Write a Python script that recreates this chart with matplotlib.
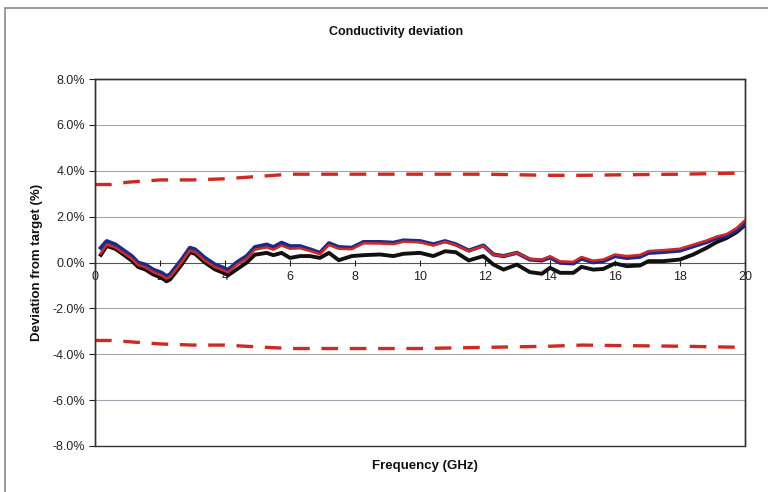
import matplotlib.pyplot as plt
from matplotlib.patches import Rectangle
from matplotlib.ticker import FuncFormatter, MultipleLocator

plt.rcParams['font.family'] = ['Liberation Sans', 'DejaVu Sans']

freq = [0.18, 0.36, 0.62, 0.92, 1.13, 1.33, 1.54, 1.79, 2.05, 2.2, 2.31, 2.51, 2.67,
        2.92, 3.08, 3.38, 3.69, 3.95, 4.1, 4.36, 4.67, 4.92, 5.28, 5.49, 5.74, 6.0,
        6.31, 6.62, 6.92, 7.2, 7.5, 7.9, 8.26, 8.77, 9.18, 9.49, 10.0, 10.41, 10.77,
        11.1, 11.5, 11.95, 12.26, 12.57, 12.98, 13.38, 13.75, 14.0, 14.31, 14.72,
        14.97, 15.33, 15.64, 16.0, 16.36, 16.77, 17.03, 17.49, 18.0, 18.41, 18.82,
        19.13, 19.44, 19.74, 20.0]
blue_dev = [0.64, 0.93, 0.79, 0.49, 0.28, -0.01, -0.09, -0.31, -0.45, -0.6, -0.52, -0.16,
            0.13, 0.64, 0.57, 0.2, -0.09, -0.23, -0.32, 0.0, 0.28, 0.67, 0.78, 0.67, 0.86,
            0.71, 0.71, 0.57, 0.42, 0.84, 0.67, 0.64, 0.89, 0.89, 0.86, 0.96, 0.93, 0.79,
            0.93, 0.79, 0.52, 0.74, 0.35, 0.28, 0.42, 0.13, 0.09, 0.22, -0.01, -0.04, 0.17,
            0.01, 0.06, 0.28, 0.2, 0.25, 0.42, 0.46, 0.52, 0.71, 0.89, 1.07, 1.17, 1.41, 1.70]
red_dev = [0.40, 0.78, 0.66, 0.37, 0.16, -0.12, -0.2, -0.42, -0.57, -0.7, -0.63, -0.28,
           0.02, 0.52, 0.46, 0.08, -0.2, -0.34, -0.43, -0.1, 0.17, 0.56, 0.66, 0.56, 0.74,
           0.6, 0.62, 0.5, 0.36, 0.76, 0.6, 0.58, 0.84, 0.83, 0.8, 0.91, 0.88, 0.74, 0.9,
           0.76, 0.5, 0.72, 0.34, 0.28, 0.42, 0.15, 0.12, 0.27, 0.05, 0.03, 0.24, 0.08,
           0.13, 0.35, 0.28, 0.33, 0.5, 0.54, 0.6, 0.78, 0.96, 1.13, 1.24, 1.5, 1.84]
black_dev = [0.33, 0.72, 0.6, 0.3, 0.08, -0.2, -0.3, -0.52, -0.67, -0.82, -0.74, -0.38,
             -0.08, 0.44, 0.38, 0.0, -0.3, -0.45, -0.55, -0.3, 0.0, 0.34, 0.42, 0.32, 0.42,
             0.2, 0.28, 0.28, 0.2, 0.42, 0.1, 0.28, 0.32, 0.35, 0.28, 0.38, 0.42, 0.28, 0.49,
             0.45, 0.09, 0.28, -0.09, -0.31, -0.09, -0.42, -0.49, -0.23, -0.45, -0.45, -0.19,
             -0.31, -0.28, -0.04, -0.16, -0.13, 0.06, 0.06, 0.13, 0.35, 0.64, 0.89, 1.07,
             1.32, 1.63]

# tolerance limits
limit_freq = [0, 0.5, 1, 2, 3, 4, 5, 6, 8, 10, 12, 14, 15, 16, 18, 20]
upper_lim = [3.4, 3.4, 3.5, 3.6, 3.6, 3.65, 3.75, 3.85, 3.85, 3.85, 3.85, 3.8, 3.8, 3.82, 3.85, 3.9]
lower_lim = [-3.4, -3.4, -3.45, -3.55, -3.6, -3.6, -3.68, -3.75, -3.75, -3.75, -3.7, -3.65,
             -3.6, -3.62, -3.65, -3.7]

fig = plt.figure(figsize=(7.68, 4.92), dpi=100)
ax = fig.add_axes([95/768, 1 - 446/492, 650/768, 367/492])

# outer chart border
fig.patches.append(Rectangle((5/768, -0.02), 1.1, (492 - 8)/492 + 0.02,
                             transform=fig.transFigure, fill=False,
                             edgecolor='#8a8a8a', lw=1.2))

# plot area box (bottom spine is moved to the zero line)
ax.add_patch(Rectangle((0, 0), 1, 1, transform=ax.transAxes, fill=False,
                       edgecolor='#333333', lw=1.0, zorder=6, clip_on=False))

for y in range(-8, 9, 2):
    if y != 0:
        ax.axhline(y, color='#a4a4b4', lw=0.8, zorder=1)

ax.plot(limit_freq, upper_lim, color='#cc2a22', lw=2.4, dashes=(5, 3.5), zorder=2)
ax.plot(limit_freq, lower_lim, color='#cc2a22', lw=2.4, dashes=(5, 3.5), zorder=2)

ax.plot(freq, black_dev, color='#111111', lw=2.8, zorder=3)
ax.plot(freq, blue_dev, color='#1c2a8c', lw=3.0, zorder=4)
ax.plot(freq, red_dev, color='#d02a25', lw=1.8, zorder=5)

ax.set_xlim(0, 20)
ax.set_ylim(-8, 8)
ax.yaxis.set_major_locator(MultipleLocator(2))
ax.yaxis.set_major_formatter(FuncFormatter(lambda v, p: f'{v:.1f}%'))
ax.xaxis.set_major_locator(MultipleLocator(2))
ax.tick_params(axis='y', direction='out', length=4, width=0.8, pad=3,
               labelsize=9, colors='#222222')
ax.tick_params(axis='x', direction='inout', length=4, width=0.8, pad=4,
               labelsize=9, colors='#222222')
ax.spines['bottom'].set_position(('data', 0))
ax.spines['bottom'].set_color('#555555')
ax.spines['bottom'].set_zorder(1)
for s in ['top', 'right', 'left']:
    ax.spines[s].set_color('#333333')
    ax.spines[s].set_linewidth(1.0)

fig.text(396/768, 1 - 32/492, 'Conductivity deviation', ha='center', va='center',
         fontsize=9, fontweight='bold', color='#111111')
fig.text(425/768, 1 - 466/492, 'Frequency (GHz)', ha='center', va='center',
         fontsize=9.5, fontweight='bold', color='#111111')
fig.text(37/768, 1 - 262/492, 'Deviation from target (%)', ha='center', va='center',
         rotation=90, fontsize=9.5, fontweight='bold', color='#111111')

fig.savefig('out.png', dpi=100)
